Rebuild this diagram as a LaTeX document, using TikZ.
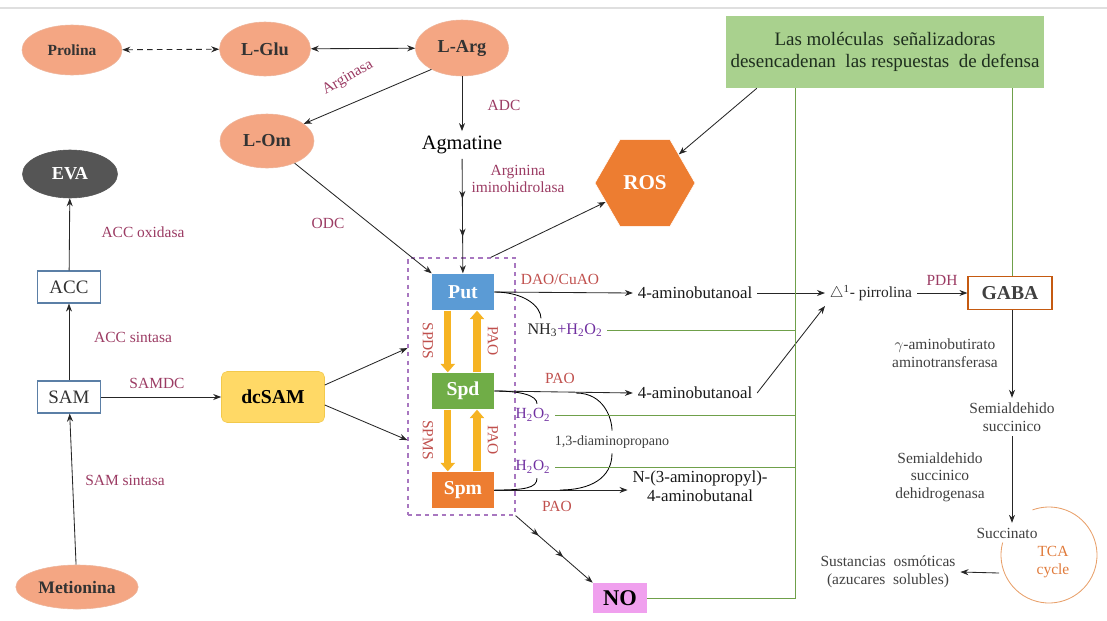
\documentclass[tikz,border=0pt]{standalone}
\usepackage{fontspec}
\setmainfont{Liberation Serif}
\usetikzlibrary{arrows.meta,positioning,shapes.geometric,decorations.markings}
\definecolor{salmon}{HTML}{F4A683}
\definecolor{salmonedge}{HTML}{EDB59C}
\definecolor{enzred}{HTML}{9B3B63}
\definecolor{paored}{HTML}{C0504D}
\definecolor{hpurple}{HTML}{7030A0}
\definecolor{evagray}{HTML}{555555}
\definecolor{steel}{HTML}{5B7FA6}
\definecolor{dcyellow}{HTML}{FFD966}
\definecolor{dcedge}{HTML}{F2C94C}
\definecolor{putblue}{HTML}{5B9BD5}
\definecolor{spdgreen}{HTML}{70AD47}
\definecolor{spmorange}{HTML}{ED7D31}
\definecolor{gold}{HTML}{F6B322}
\definecolor{dashviolet}{HTML}{A877C0}
\definecolor{lgreen}{HTML}{6FA04A}
\definecolor{sigfill}{HTML}{A9D18E}
\definecolor{sigtext}{HTML}{1E2E1E}
\definecolor{gabaedge}{HTML}{C55A11}
\definecolor{nopink}{HTML}{F0A0EE}
\definecolor{tcaline}{HTML}{E8A06A}
\definecolor{tcatext}{HTML}{E07A3A}
\definecolor{darkgray}{gray}{0.25}

\begin{document}
\begin{tikzpicture}[
  x=0.025cm, y=-0.025cm,
  amino/.style={ellipse, draw=salmonedge, fill=salmon, font=\bfseries\fontsize{13}{15}\selectfont, text=black!80},
  enz/.style={font=\fontsize{11}{12.5}\selectfont, text=enzred, align=center},
  pao/.style={font=\fontsize{11}{12.5}\selectfont, text=paored, align=center},
  txt/.style={font=\fontsize{11}{12.5}\selectfont, text=darkgray, align=center},
  metab/.style={font=\fontsize{12}{13.5}\selectfont, text=black!90, align=center},
  pa/.style={fill=#1, minimum width=1.55cm, minimum height=0.92cm, text=white, font=\bfseries\fontsize{14}{16}\selectfont},
  ebox/.style={draw=steel, thick, fill=white, minimum width=1.575cm, minimum height=0.8cm, font=\fontsize{13.5}{15}\selectfont, text=black!80},
  arr/.style={-{Stealth[length=2mm]}, semithick, color=black!85},
  darr/.style={{Stealth[length=2mm]}-{Stealth[length=2mm]}, semithick, color=black!85},
  yarr/.style={-{Triangle[width=10pt,length=6pt]}, line width=5pt, color=gold},
  gline/.style={draw=lgreen, semithick},
  multiarr/.style 2 args={arr, postaction={decorate}, decoration={markings,
    mark=at position #1 with {\arrow{Stealth[length=2mm]}},
    mark=at position #2 with {\arrow{Stealth[length=2mm]}}}},
]
  \useasboundingbox (0,0) rectangle (1107,620);
  \draw[gray!25, line width=1pt] (0,8) -- (1107,8);

  % amino acids
  \node[amino, font=\bfseries\fontsize{11}{13}\selectfont, minimum width=2.5cm, minimum height=1.25cm] (pro) at (72,50) {Prolina};
  \node[amino, minimum width=2.275cm, minimum height=1.35cm] (glu) at (265,49) {L-Glu};
  \node[amino, minimum width=2.325cm, minimum height=1.4cm] (arg) at (462,48) {L-Arg};
  \node[amino, minimum width=2.35cm, minimum height=1.35cm] (orn) at (267,141) {L-Om};
  \node[amino, font=\bfseries\fontsize{12.5}{14}\selectfont, minimum width=2.5cm, minimum height=1.1cm] (met) at (77,587) {Metionina};
  \node[ellipse, fill=evagray, draw=evagray, minimum width=2.375cm, minimum height=1.2cm, text=white, font=\bfseries\fontsize{13}{15}\selectfont] (eva) at (70,174) {EVA};

  % ethylene branch
  \node[ebox] (acc) at (69,287) {ACC};
  \node[ebox] (sam) at (69,397) {SAM};
  \node[rounded corners=4pt, fill=dcyellow, draw=dcedge, minimum width=2.575cm, minimum height=1.275cm, font=\bfseries\fontsize{14}{16}\selectfont] (dcsam) at (273,397) {dcSAM};
  \node[enz] (accox) at (143,232) {ACC oxidasa};
  \node[enz] (accsin) at (133,337) {ACC sintasa};
  \node[enz] (samdc) at (157,383) {SAMDC};
  \node[enz] (samsin) at (125,480) {SAM sintasa};

  % arginine branch
  \node[font=\fontsize{14.5}{16}\selectfont] (agm) at (462,145) {Agmatine};
  \node[enz] (adc) at (504,105) {ADC};
  \node[enz, rotate=30] (argn) at (348,78) {Arginasa};
  \node[enz] (aih) at (518,179) {Arginina\\iminohidrolasa};
  \node[enz] (odc) at (328,223) {ODC};

  % polyamines
  \node[draw=dashviolet, dashed, thick, minimum width=2.675cm, minimum height=6.425cm] (pabox) at (461.5,386.5) {};
  \node[pa=putblue] (put) at (463,292) {Put};
  \node[pa=spdgreen] (spd) at (463,391) {Spd};
  \node[pa=spmorange] (spm) at (463,490) {Spm};
  \node[pao, rotate=-90] (spds) at (428,341) {SPDS};
  \node[pao, rotate=-90] (paoa) at (493,341) {PAO};
  \node[pao, rotate=-90] (spms) at (428,440) {SPMS};
  \node[pao, rotate=-90] (paob) at (493,440) {PAO};

  \node[draw=white, fill=spmorange, regular polygon, regular polygon sides=6, minimum size=2.5cm, text=white, font=\bfseries\fontsize{15}{18}\selectfont] (ros) at (645,183) {ROS};
  \node[fill=sigfill, minimum width=7.4cm, minimum height=1.8cm, align=center, text=sigtext, font=\fontsize{13.5}{16}\selectfont] (sig) at (885,52) {Las moléculas \ señalizadoras\\desencadenan \ las respuestas \ de defensa};
  \coordinate (vL) at (795,88);
  \coordinate (vR) at (1012,88);

  % catabolism
  \node[pao] (dao) at (560,279) {DAO/CuAO};
  \node[metab] (ab1) at (695,293) {4-aminobutanoal};
  \node[txt, text=black!85, font=\fontsize{11.5}{13}\selectfont] (nh) at (565,330) {NH\textsubscript{3}\textcolor{hpurple}{+H\textsubscript{2}O\textsubscript{2}}};
  \node[pao] (paoc) at (560,378) {PAO};
  \node[metab] (ab2) at (695,393) {4-aminobutanoal};
  \node[txt, text=hpurple] (ha) at (533,415) {H\textsubscript{2}O\textsubscript{2}};
  \node[txt, font=\fontsize{10}{11.5}\selectfont] (dap) at (612,442) {1,3-diaminopropano};
  \node[txt, text=hpurple] (hb) at (533,467) {H\textsubscript{2}O\textsubscript{2}};
  \node[metab] (nap) at (700,486) {N-(3-aminopropyl)-\\4-aminobutanal};
  \node[pao] (paod) at (557,506) {PAO};
  \node[fill=nopink, minimum width=1.35cm, minimum height=0.75cm, font=\bfseries\fontsize{16}{18}\selectfont] (no) at (620,598) {NO};
  \coordinate (ja) at (576,393);
  \coordinate (jb) at (560,490);

  % GABA shunt
  \node[txt, text=black!85] (pirr) at (871,293) {$\triangle$\textsuperscript{1}- pirrolina};
  \node[enz] (pdh) at (942,280) {PDH};
  \node[draw=gabaedge, thick, minimum width=2.1cm, minimum height=0.82cm, text=black!75, font=\bfseries\fontsize{14}{16}\selectfont] (gaba) at (1010,293) {GABA};
  \node[txt] (gat) at (945,353) {$\gamma$-aminobutirato\\aminotransferasa};
  \node[txt] (semi) at (1012,417) {Semialdehido\\succinico};
  \node[txt] (ssd) at (940,477) {Semialdehido\\succinico\\dehidrogenasa};
  \node[txt] (succ) at (1007,533) {Succinato};
  \node[align=center, text=tcatext, font=\fontsize{11}{13}\selectfont] (tca) at (1053,562) {TCA\\cycle};
  \node[txt] (osm) at (888,572) {Sustancias \ osmóticas\\(azucares \ solubles)};
  \coordinate (tcac) at (1049,555);
  \coordinate (tcaw) at (999,573);

  % connectors
  \draw[darr, dash pattern=on 4pt off 3pt] (pro) -- (glu);
  \draw[darr] (glu) -- (arg);
  \draw[arr] (arg.215) -- (orn.25);
  \draw[arr] (arg) -- (agm);
  \draw[multiarr={0.35}{0.68}] (agm) -- (put);
  \draw[arr] (orn) -- (put.north west);
  \draw[arr] (met) -- (sam);
  \draw[arr] (sam) -- (acc);
  \draw[arr] (acc) -- (eva);
  \draw[arr] (sam) -- (dcsam);
  \draw[arr] ([yshift=0.3cm]dcsam.east) -- ([yshift=0.96cm]pabox.west);
  \draw[arr] ([yshift=-0.2cm]dcsam.east) -- ([yshift=-1.34cm]pabox.west);
  \draw[arr] ([xshift=-0.62cm]pabox.north east) -- (ros);
  \draw[arr] ([xshift=0.78cm]sig.south west) -- (ros);

  \draw[yarr] ([xshift=-0.38cm]put.south) -- ([xshift=-0.38cm]spd.north);
  \draw[yarr] ([xshift=0.35cm]spd.north) -- ([xshift=0.35cm]put.south);
  \draw[yarr] ([xshift=-0.38cm]spd.south) -- ([xshift=-0.38cm]spm.north);
  \draw[yarr] ([xshift=0.35cm]spm.north) -- ([xshift=0.35cm]spd.south);

  \draw[arr] (put.east) -- (ab1.west);
  \draw[arr] (spd.east) -- (ab2.west);
  \draw[arr] (spm.east) -- (spm.east -| nap.west);
  \draw[semithick] (put.east) .. controls +(30,0) and +(0,-12) .. ([xshift=-0.6cm]nh.north);
  \draw[semithick] (spd.east) .. controls +(28,0) and +(0,-8) .. ([xshift=0.1cm]ha.north);
  \draw[semithick] (ja) .. controls +(28,0) and +(0,-12) .. (dap.north);
  \draw[semithick] (dap.south) .. controls +(0,25) and +(30,0) .. (jb);
  \draw[semithick] (spm.east) .. controls +(30,0) and +(0,10) .. ([xshift=0.1cm]hb.south);
  \draw[multiarr={0.3}{0.62}] (pabox.south east) -- (no.north west);

  \draw[arr] (ab1) -- (pirr.west);
  \draw[arr] (ab2.east) -- (pirr.south west);
  \draw[arr] (pirr.east) -- (gaba.west);
  \draw[arr] (gaba.south -| vR) -- (semi.north -| vR);
  \draw[arr] (semi.south -| vR) -- (succ.north -| vR);
  \draw[tcaline, semithick] (tcac) ++(-165:48) arc[start angle=-165, end angle=-470, radius=48];
  \draw[arr] (tcaw) -- (osm.east);

  % green signalling lines
  \draw[gline] (vL) -- (vL |- no.east) -- (no.east);
  \draw[gline] (vR) -- (vR |- gaba.north);
  \draw[gline] (nh.east) -- (nh.east -| vL);
  \draw[gline] (ha.east) -- (ha.east -| vL);
  \draw[gline] (hb.east) -- (hb.east -| vL);
\end{tikzpicture}
\end{document}
